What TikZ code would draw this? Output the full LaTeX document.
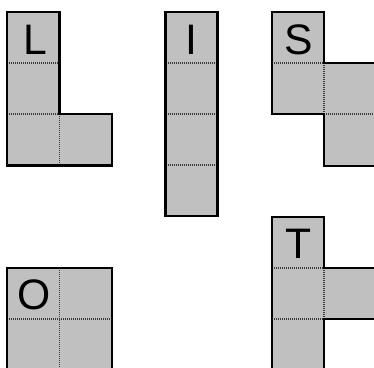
\documentclass[tikz,border=0pt]{standalone}
\usepackage{fontspec}
\setmainfont{Liberation Sans}
\definecolor{cellgray}{HTML}{C0C0C0}
\definecolor{dotgray}{HTML}{3A3A3A}
\begin{document}
\begin{tikzpicture}[x=0.75pt,y=-0.75pt,
  piecefill/.style={fill=cellgray},
  pieceline/.style={draw=black,line width=1.7pt,line join=miter},
  celldiv/.style={draw=dotgray,line width=0.85pt,dash pattern=on 0.75pt off 0.75pt},
  letter/.style={font=\fontsize{32}{32}\selectfont,inner sep=0pt,anchor=center}]
\useasboundingbox (0,0) rectangle (374,367);
\clip (0,0) rectangle (374,367);
% L
\path[piecefill] (7,12) -- (59.5,12) -- (59.5,114) -- (112,114) -- (112,165.5) -- (7,165.5) -- cycle;
\draw[celldiv] (7,63) -- (59.5,63) (7,114) -- (59.5,114) (59.5,114) -- (59.5,165.5);
\draw[pieceline] (7,12) -- (59.5,12) -- (59.5,114) -- (112,114) -- (112,165.5) -- (7,165.5) -- cycle;
\node[letter] (l) at (35,40) {L};
% I
\path[piecefill] (165.5,12) rectangle (217.5,216);
\draw[celldiv] (165.5,63) -- (217.5,63) (165.5,114) -- (217.5,114) (165.5,165) -- (217.5,165);
\draw[pieceline] (165.5,12) rectangle (217.5,216);
\node[letter] (i) at (191.5,40) {I};
% S
\path[piecefill] (272,12) -- (324,12) -- (324,63) -- (378,63) -- (378,166) -- (324,166) -- (324,114) -- (272,114) -- cycle;
\draw[celldiv] (272,63) -- (324,63) (324,63) -- (324,114) (324,114) -- (378,114);
\draw[pieceline] (272,12) -- (324,12) -- (324,63) -- (378,63) -- (378,166) -- (324,166) -- (324,114) -- (272,114) -- cycle;
\node[letter] (s) at (298.5,40) {S};
% O
\path[piecefill] (7,268) rectangle (112,374);
\draw[celldiv] (59.5,268) -- (59.5,374) (7,319) -- (112,319);
\draw[pieceline] (7,268) rectangle (112,374);
\node[letter] (o) at (34,295) {O};
% T
\path[piecefill] (272,217) -- (324,217) -- (324,268) -- (378,268) -- (378,319) -- (324,319) -- (324,374) -- (272,374) -- cycle;
\draw[celldiv] (272,268) -- (324,268) (324,268) -- (324,319) (272,319) -- (324,319);
\draw[pieceline] (272,217) -- (324,217) -- (324,268) -- (378,268) -- (378,319) -- (324,319) -- (324,374) -- (272,374) -- cycle;
\node[letter] (t) at (298.5,244) {T};
\end{tikzpicture}
\end{document}
